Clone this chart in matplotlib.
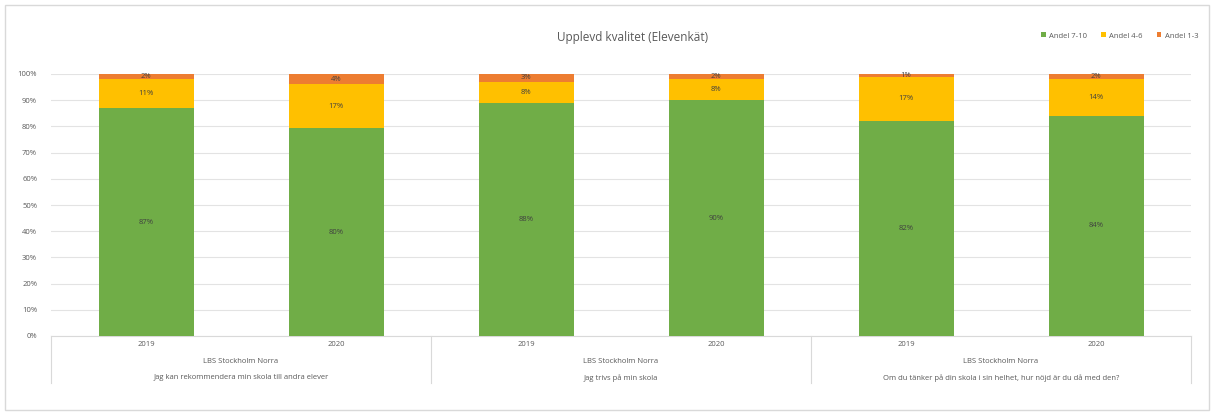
import matplotlib
matplotlib.use("Agg")
import matplotlib.pyplot as plt
from matplotlib.patches import Rectangle
import numpy as np

plt.rcParams['font.family'] = ['Open Sans', 'DejaVu Sans']

years = ["2019", "2020", "2019", "2020", "2019", "2020"]
school = "LBS Stockholm Norra"
questions = ["Jag kan rekommendera min skola till andra elever",
             "Jag trivs på min skola",
             "Om du tänker på din skola i sin helhet, hur nöjd är du då med den?"]
series_names = ["Andel 7-10", "Andel 4-6", "Andel 1-3"]
andel_7_10 = [87, 80, 88, 90, 82, 84]
andel_4_6 = [11, 17, 8, 8, 17, 14]
andel_1_3 = [2, 4, 3, 2, 1, 2]
colors = ["#70AD47", "#FFC000", "#ED7D31"]
yticks = [0, 10, 20, 30, 40, 50, 60, 70, 80, 90, 100]

W, H = 1214, 413
fig = plt.figure(figsize=(W / 100, H / 100), dpi=100)
fig.patches.append(Rectangle((5 / W, 3 / H), 1204 / W, 405 / H, transform=fig.transFigure,
                             fill=False, edgecolor="#D9D9D9", linewidth=1))
ax = fig.add_axes([51 / W, 1 - 336 / H, 1140 / W, 262 / H])

data = np.array([andel_7_10, andel_4_6, andel_1_3], dtype=float)
totals = data.sum(axis=0)
pct = data / totals * 100
x = np.arange(len(years))
bottom = np.zeros(len(years))
for i in range(3):
    ax.bar(x, pct[i], 0.5, bottom=bottom, color=colors[i], label=series_names[i], zorder=3)
    for j in range(len(years)):
        ax.text(x[j], bottom[j] + pct[i][j] / 2, f"{int(data[i][j])}%", ha="center", va="center",
                fontsize=5.5, color="#404040", zorder=4)
    bottom += pct[i]

ax.set_xlim(-0.5, 5.5)
ax.set_ylim(0, 100)
ax.set_yticks(yticks)
ax.set_yticklabels([f"{t}%" for t in yticks], fontsize=5.5, color="#595959")
ax.tick_params(axis="y", length=0, pad=10)
ax.set_xticks([])
ax.grid(axis="y", color="#E3E3E3", linewidth=0.8, zorder=0)
for s in ["top", "right", "left"]:
    ax.spines[s].set_visible(False)
ax.spines["bottom"].set_color("#D9D9D9")

tr = ax.get_xaxis_transform()
for j, yr in enumerate(years):
    ax.text(x[j], -0.034, yr, transform=tr, ha="center", va="center", fontsize=5.5, color="#595959")
for g in range(3):
    cx = 2 * g + 0.5
    ax.text(cx, -0.099, school, transform=tr, ha="center", va="center", fontsize=5.5, color="#595959")
    ax.text(cx, -0.16, questions[g], transform=tr, ha="center", va="center", fontsize=5.5, color="#595959")
for sx in [-0.5, 1.5, 3.5, 5.5]:
    ax.plot([sx, sx], [0, -0.18], transform=tr, color="#D9D9D9", linewidth=0.8, clip_on=False)

fig.text(633 / W, 1 - 38 / H, "Upplevd kvalitet (Elevenkät)", ha="center", va="center",
         fontsize=8.5, color="#595959")

leg = fig.legend(loc="center right", bbox_to_anchor=(1205 / W, 1 - 36 / H), ncol=3, frameon=False,
                 fontsize=5.5, handlelength=0.6, handleheight=0.6, columnspacing=1.9, handletextpad=0.4)
for t in leg.get_texts():
    t.set_color("#595959")

fig.savefig("out.png", dpi=100)
